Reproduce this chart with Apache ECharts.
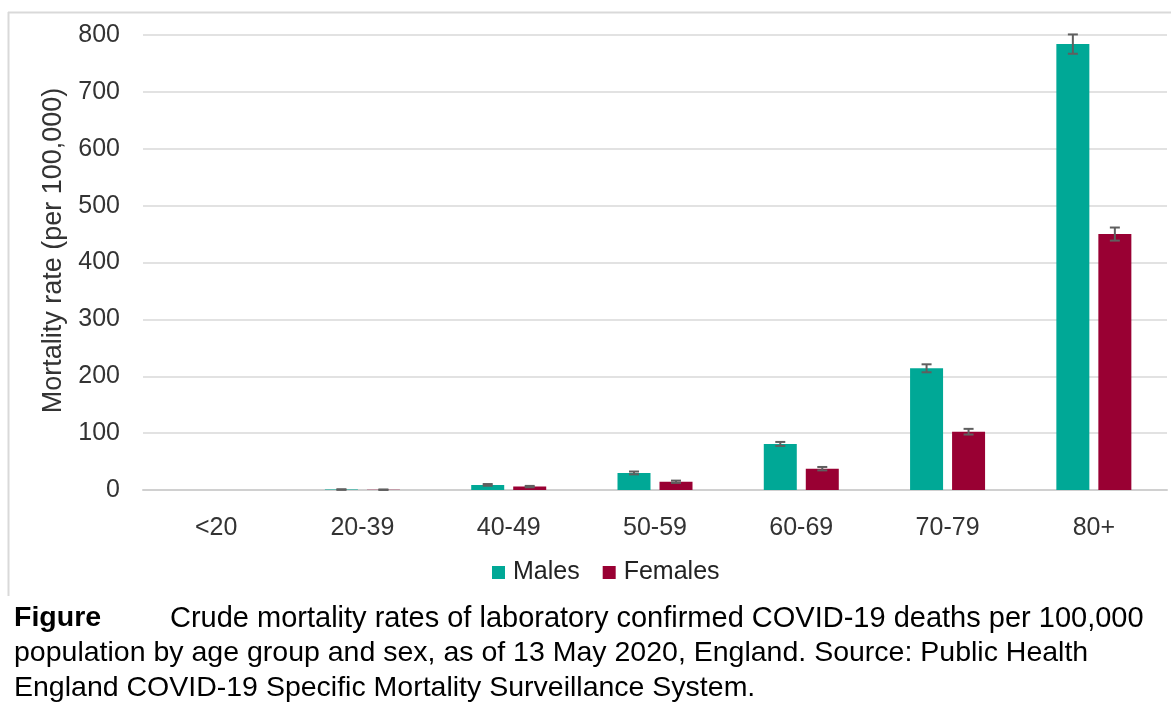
<!DOCTYPE html>
<html>
<head>
<meta charset="utf-8">
<script src="https://cdn.jsdelivr.net/npm/echarts@6/dist/echarts.min.js"></script>
<style>
html,body{margin:0;padding:0;background:#fff;}
#chart{width:1171px;height:710px;}
</style>
</head>
<body>
<div id="chart"></div>
<script>
var categories = ['<20', '20-39', '40-49', '50-59', '60-69', '70-79', '80+'];
var males = [0, 0.8, 9, 30, 81, 214, 784];
var malesErr = [0, 0.5, 1.5, 2.5, 3.5, 7, 17];
var females = [0, 0.5, 6, 14.5, 37.5, 102.5, 450];
var femalesErr = [0, 0.4, 1.2, 2, 3, 5, 11.5];
var yTicks = [0, 100, 200, 300, 400, 500, 600, 700, 800];

var BAR_W = 33, BAR_GAP = 9;
var FONT = 'Liberation Sans, Arial, sans-serif';
var chart = echarts.init(document.getElementById('chart'));

function errSeries(name, vals, errs, dir) {
  var data = vals.map(function (v, i) { return [i, v, errs[i]]; });
  return {
    type: 'custom',
    name: name + ' err',
    z: 5,
    silent: true,
    data: data,
    renderItem: function (params, api) {
      var i = api.value(0), v = api.value(1), e = api.value(2);
      if (!(v > 0)) return null;
      var off = dir * (BAR_W + BAR_GAP) / 2;
      var top = api.coord([i, v + e]);
      var bot = api.coord([i, Math.max(0, v - e)]);
      var x = top[0] + off;
      var cap = 5;
      var st = { stroke: '#5f5f5f', lineWidth: 2 };
      return {
        type: 'group',
        children: [
          { type: 'line', shape: { x1: x, y1: top[1], x2: x, y2: bot[1] }, style: st },
          { type: 'line', shape: { x1: x - cap, y1: top[1], x2: x + cap, y2: top[1] }, style: st },
          { type: 'line', shape: { x1: x - cap, y1: bot[1], x2: x + cap, y2: bot[1] }, style: st }
        ]
      };
    }
  };
}

var option = {
  animation: false,
  backgroundColor: '#fff',
  textStyle: { fontFamily: FONT },
  grid: { left: 143, right: 4, top: 35, bottom: 220, containLabel: false },
  legend: {
    data: ['Males', 'Females'],
    top: 555,
    left: 487,
    itemWidth: 13, itemHeight: 13, itemGap: 23,
    icon: 'rect',
    textStyle: { fontSize: 25, color: '#222', fontFamily: FONT, padding: [0, 0, 0, 3] }
  },
  xAxis: {
    type: 'category',
    data: categories,
    axisLine: { show: true, lineStyle: { color: '#d0d0d0', width: 2 } },
    axisTick: { show: false },
    axisLabel: { fontSize: 25, color: '#333', margin: 26, fontFamily: FONT }
  },
  yAxis: {
    type: 'value',
    min: 0, max: 800, interval: 100,
    name: 'Mortality rate (per 100,000)',
    nameLocation: 'middle',
    nameGap: 68,
    nameTextStyle: { fontSize: 27, color: '#333', fontFamily: FONT, padding: [0, 0, 0, 24] },
    axisLine: { show: false },
    axisTick: { show: false },
    axisLabel: {
      fontSize: 25, color: '#333', margin: 23,
      fontFamily: FONT,
      formatter: function (v) { return yTicks.indexOf(v) >= 0 ? String(v) : ''; }
    },
    splitLine: { lineStyle: { color: '#d9d9d9', width: 1.5 } }
  },
  series: [
    { name: 'Males', type: 'bar', data: males, barWidth: BAR_W, barGap: (BAR_GAP / BAR_W * 100) + '%',
      itemStyle: { color: '#00a896' } },
    { name: 'Females', type: 'bar', data: females, barWidth: BAR_W,
      itemStyle: { color: '#990033' } },
    errSeries('Males', males, malesErr, -1),
    errSeries('Females', females, femalesErr, 1)
  ],
  graphic: [
    { type: 'line', shape: { x1: 8.5, y1: 12, x2: 8.5, y2: 596 }, style: { stroke: '#d9d9d9', lineWidth: 2 } },
    { type: 'line', shape: { x1: 8, y1: 12.5, x2: 1171, y2: 12.5 }, style: { stroke: '#d9d9d9', lineWidth: 2 } },
    { type: 'text', left: 14, top: 604, style: { text: 'Figure', font: 'bold 28.5px Liberation Sans, Arial, sans-serif', fill: '#000' } },
    { type: 'text', left: 170, top: 604, style: { text: 'Crude mortality rates of laboratory confirmed COVID-19 deaths per 100,000', font: '29px Liberation Sans, Arial, sans-serif', fill: '#000' } },
    { type: 'text', left: 14, top: 639, style: { text: 'population by age group and sex, as of 13 May 2020, England. Source: Public Health', font: '28.5px Liberation Sans, Arial, sans-serif', fill: '#000' } },
    { type: 'text', left: 14, top: 674, style: { text: 'England COVID-19 Specific Mortality Surveillance System.', font: '28.5px Liberation Sans, Arial, sans-serif', fill: '#000' } }
  ]
};
chart.setOption(option);
</script>
</body>
</html>
